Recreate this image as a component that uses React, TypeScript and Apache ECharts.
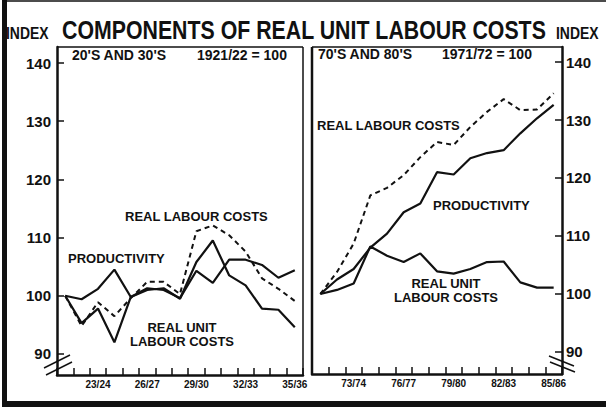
import React, { useEffect, useRef } from "react";
import * as echarts from "echarts";

const leftCats = ["21/22", "22/23", "23/24", "24/25", "25/26", "26/27", "27/28", "28/29", "29/30", "30/31", "31/32", "32/33", "33/34", "34/35", "35/36"];
const rightCats = ["71/72", "72/73", "73/74", "74/75", "75/76", "76/77", "77/78", "78/79", "79/80", "80/81", "81/82", "82/83", "83/84", "84/85", "85/86"];
const yTicks = [90, 100, 110, 120, 130, 140];

const leftProductivity = [100, 99.4, 101.2, 104.5, 99.8, 101.3, 101.0, 99.6, 104.3, 102.2, 106.2, 106.2, 105.3, 103.1, 104.4];
const leftRealUnitLabourCosts = [100, 95.3, 97.8, 92.0, 99.8, 101.0, 101.3, 99.5, 105.8, 109.5, 103.5, 101.8, 97.8, 97.6, 94.6];
const leftRealLabourCosts = [100, 94.8, 98.9, 96.5, 99.6, 102.4, 102.4, 100.3, 111.1, 112.1, 110.4, 107.6, 103.0, 101.2, 99.1];

const rightProductivity = [100, 102.5, 104.3, 108.0, 110.4, 114.1, 115.6, 121.0, 120.6, 123.4, 124.3, 124.8, 127.7, 130.3, 132.6];
const rightRealUnitLabourCosts = [100, 100.7, 101.8, 108.2, 106.6, 105.5, 107.0, 103.9, 103.5, 104.3, 105.5, 105.6, 102.0, 101.1, 101.1];
const rightRealLabourCosts = [100, 103.8, 108.7, 117.0, 118.3, 120.5, 123.6, 126.2, 125.7, 128.8, 131.4, 133.6, 131.7, 131.8, 134.6];

const FONT = "Liberation Sans";
const BLACK = "#111";

function txt(text: string, x: number, y: number, size: number, scaleX = 1, align = "left") {
  return {
    type: "text",
    x,
    y,
    scaleX,
    style: {
      text,
      fill: BLACK,
      font: `bold ${size}px "${FONT}"`,
      textAlign: align,
      textVerticalAlign: "middle",
    },
    z: 10,
  };
}

function ln(x1: number, y1: number, x2: number, y2: number, w: number) {
  return {
    type: "line",
    shape: { x1, y1, x2, y2 },
    style: { stroke: BLACK, lineWidth: w },
    z: 10,
  };
}

export default function App() {
  const ref = useRef<HTMLDivElement>(null);
  useEffect(() => {
    if (!ref.current) return;
    const chart = echarts.init(ref.current, undefined, { renderer: "svg" });

    const xAxisBase = (gridIndex: number, data: string[]) => ({
      type: "category",
      gridIndex,
      data,
      boundaryGap: true,
      axisLine: { show: true, lineStyle: { color: BLACK, width: 2.5 } },
      axisTick: { show: true, inside: true, length: 7, interval: 0, lineStyle: { color: BLACK, width: 1.5 } },
      axisLabel: {
        interval: (i: number) => i % 3 === 2,
        color: BLACK,
        fontSize: 10,
        fontWeight: "bold",
        fontFamily: FONT,
        margin: 4,
      },
      splitLine: { show: false },
    });

    const yAxisBase = (gridIndex: number, position: string, min: number, max: number, margin: number) => ({
      type: "value",
      gridIndex,
      position,
      min,
      max,
      axisLine: { show: true, lineStyle: { color: BLACK, width: 2.5 } },
      axisTick: { show: true, inside: true, length: 7, customValues: yTicks, lineStyle: { color: BLACK, width: 1.5 } },
      axisLabel: {
        customValues: yTicks,
        color: BLACK,
        fontSize: 15,
        fontWeight: "bold",
        fontFamily: FONT,
        margin,
      },
      splitLine: { show: false },
    });

    const solid = { color: BLACK, width: 2.2, type: "solid" };
    const dashed = { color: BLACK, width: 2, type: [5, 4] };

    const mk = (data: number[], xi: number, lineStyle: any) => ({
      type: "line",
      xAxisIndex: xi,
      yAxisIndex: xi,
      data,
      symbol: "none",
      lineStyle,
      z: 5,
    });

    chart.setOption({
      animation: false,
      backgroundColor: "#fff",
      grid: [
        { left: 57, top: 47, width: 246, height: 328 },
        { left: 312, top: 47, width: 250, height: 327 },
      ],
      xAxis: [xAxisBase(0, leftCats), xAxisBase(1, rightCats)],
      yAxis: [yAxisBase(0, "left", 86.39, 142.75, 6), yAxisBase(1, "right", 86.2, 142.59, 4)],
      series: [
        mk(leftProductivity, 0, solid),
        mk(leftRealUnitLabourCosts, 0, solid),
        mk(leftRealLabourCosts, 0, dashed),
        mk(rightProductivity, 1, solid),
        mk(rightRealUnitLabourCosts, 1, solid),
        mk(rightRealLabourCosts, 1, dashed),
      ],
      graphic: [
        // outer frame
        { type: "rect", shape: { x: 2, y: 0, width: 5, height: 407 }, style: { fill: BLACK }, z: 10 },
        { type: "rect", shape: { x: 2, y: 401, width: 604, height: 6 }, style: { fill: BLACK }, z: 10 },
        ln(2, 1, 606, 1, 1.5),
        // left panel box
        ln(57, 47, 303, 47, 1.5),
        ln(303, 47, 303, 375, 1.5),
        // right panel box
        ln(312, 47, 562, 47, 1.5),
        ln(312, 47, 312, 374, 2.5),
        // axis breaks
        ln(44, 368, 70, 355, 1.5),
        ln(46, 375, 72, 362, 1.5),
        ln(549, 356, 574, 366, 1.5),
        ln(550, 362, 575, 372, 1.5),
        // titles
        txt("INDEX", 6, 33, 17, 0.82),
        txt("COMPONENTS OF REAL UNIT LABOUR COSTS", 62, 30, 26, 0.82),
        txt("INDEX", 556, 33, 17, 0.82),
        // panel headers
        txt("20'S AND 30'S", 72, 55, 14),
        txt("1921/22 = 100", 197, 55, 14),
        txt("70'S AND 80'S", 318, 54, 14),
        txt("1971/72 = 100", 442, 54, 14),
        // series labels left
        txt("REAL LABOUR COSTS", 125, 216, 13, 1),
        txt("PRODUCTIVITY", 68, 258, 13, 1),
        txt("REAL UNIT", 182, 327, 13, 1, "center"),
        txt("LABOUR COSTS", 182, 341, 13, 1, "center"),
        // series labels right
        txt("REAL LABOUR COSTS", 317, 125, 13, 1),
        txt("PRODUCTIVITY", 433, 205, 13, 1),
        txt("REAL UNIT", 446, 283, 13, 1, "center"),
        txt("LABOUR COSTS", 446, 297, 13, 1, "center"),
      ],
    });
    return () => chart.dispose();
  }, []);
  return (
    <div
      ref={ref}
      style={{ position: "fixed", left: 0, top: 0, width: 606, height: 407, background: "#fff" }}
    />
  );
}
